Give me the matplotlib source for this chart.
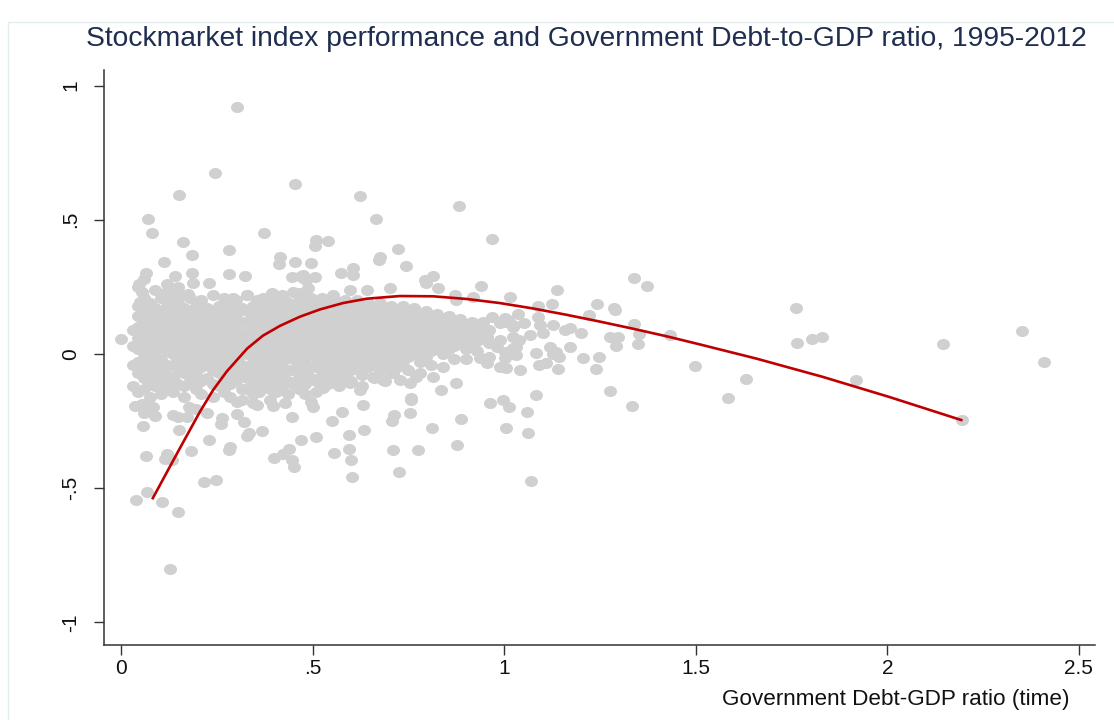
import matplotlib
matplotlib.use('Agg')
import matplotlib.pyplot as plt
from matplotlib.path import Path
from matplotlib.patches import Rectangle

plt.rcParams['font.family'] = ['Liberation Sans', 'DejaVu Sans']

# (debt ratio, index performance) for observations away from the main cloud
outer_points = [
    # upper tail
    (0.302, 0.919), (0.245, 0.674), (0.151, 0.593), (0.454, 0.635), (0.071, 0.504),
    (0.080, 0.450), (0.162, 0.419), (0.373, 0.450), (0.184, 0.369), (0.282, 0.388),
    (0.113, 0.343), (0.415, 0.361), (0.413, 0.336), (0.454, 0.343), (0.495, 0.338),
    (0.508, 0.425), (0.506, 0.403), (0.065, 0.301), (0.141, 0.289), (0.184, 0.303),
    (0.282, 0.297), (0.323, 0.289), (0.446, 0.288), (0.470, 0.290), (0.623, 0.590),
    (0.881, 0.553), (0.665, 0.503), (0.968, 0.429), (0.541, 0.420), (0.724, 0.392),
    (0.675, 0.362), (0.673, 0.351), (0.606, 0.322), (0.743, 0.328), (0.575, 0.301),
    (0.606, 0.295), (0.475, 0.295), (0.506, 0.288), (0.815, 0.291), (0.793, 0.276),
    (0.000, 0.056), (0.048, 0.261), (0.054, 0.232), (0.050, 0.195), (0.188, 0.266),
    (0.230, 0.266), (0.115, 0.226), (0.132, 0.236), (0.154, 0.216), (0.175, 0.224),
    (0.293, 0.208), (0.328, 0.220), (0.354, 0.201), (0.371, 0.208), (0.393, 0.229),
    (0.415, 0.201), (0.432, 0.195), (0.475, 0.282), (0.467, 0.226), (0.488, 0.245),
    (0.501, 0.195), (0.484, 0.276), (0.701, 0.245), (0.641, 0.239), (0.597, 0.239),
    (0.554, 0.220), (0.519, 0.201),
    # right of the cloud
    (0.797, 0.266), (0.827, 0.245), (0.940, 0.254), (0.871, 0.220), (0.875, 0.201),
    (0.919, 0.214), (1.014, 0.212), (0.967, 0.139), (0.988, 0.115), (1.010, 0.127),
    (1.023, 0.102), (0.954, 0.065), (0.980, 0.027), (0.988, 0.052), (1.023, 0.065),
    (1.032, 0.027), (0.936, -0.016), (0.954, -0.035), (0.988, -0.047), (1.001, -0.016),
    (1.032, -0.004), (0.875, -0.109), (0.836, -0.134), (0.815, -0.085), (0.758, -0.165),
    (0.771, -0.085), (0.754, -0.109), (0.728, -0.097), (0.710, -0.072), (0.684, -0.097),
    (0.658, -0.085), (0.597, -0.109), (0.623, -0.134), (0.562, -0.109), (0.528, -0.128),
    (1.340, 0.282), (1.373, 0.255), (1.139, 0.239), (1.087, 0.179), (1.125, 0.187),
    (1.242, 0.185), (1.286, 0.171), (1.036, 0.148), (1.001, 0.133), (1.221, 0.146),
    (1.288, 0.164), (1.275, -0.137), (1.333, -0.195), (1.499, -0.044), (1.205, -0.016),
    (1.247, -0.010), (1.240, -0.055), (1.140, -0.056), (1.091, -0.041), (1.042, -0.060),
    (1.004, -0.053), (1.082, 0.005), (1.127, 0.000), (1.143, -0.010), (1.171, 0.027),
    (1.201, 0.077), (1.275, 0.065), (1.297, 0.065), (1.291, 0.030), (1.349, 0.037),
    (1.353, 0.075), (1.340, 0.112), (1.432, 0.071), (1.001, 0.121), (1.023, 0.108),
    (1.053, 0.115), (1.093, 0.108), (1.127, 0.108), (1.158, 0.090), (1.171, 0.096),
    (1.067, 0.071), (1.101, 0.077), (1.040, 0.052), (1.023, 0.021), (1.001, 0.008),
    (1.119, 0.027), (1.136, 0.008), (1.110, -0.035), (1.087, 0.139),
    # lower tail
    (0.501, -0.197), (0.497, -0.178), (0.578, -0.215), (0.632, -0.190), (0.551, -0.250),
    (0.471, -0.321), (0.510, -0.309), (0.595, -0.302), (0.634, -0.284), (0.556, -0.368),
    (0.595, -0.354), (0.599, -0.396), (0.602, -0.460), (0.712, -0.228), (0.708, -0.249),
    (0.754, -0.218), (0.758, -0.172), (0.710, -0.358), (0.774, -0.358), (0.725, -0.439),
    (0.811, -0.275), (0.887, -0.241), (0.877, -0.340), (0.962, -0.184), (0.997, -0.172),
    (1.013, -0.199), (1.004, -0.277), (0.037, -0.194), (0.054, -0.187), (0.084, -0.197),
    (0.089, -0.231), (0.058, -0.267), (0.136, -0.228), (0.149, -0.234), (0.173, -0.236),
    (0.178, -0.197), (0.197, -0.203), (0.151, -0.284), (0.225, -0.218), (0.263, -0.240),
    (0.260, -0.259), (0.302, -0.224), (0.321, -0.255), (0.334, -0.296), (0.329, -0.306),
    (0.369, -0.287), (0.303, -0.178), (0.345, -0.184), (0.354, -0.190), (0.397, -0.194),
    (0.428, -0.182), (0.445, -0.236), (0.064, -0.379), (0.119, -0.371), (0.115, -0.392),
    (0.132, -0.393), (0.183, -0.361), (0.229, -0.321), (0.284, -0.346), (0.283, -0.358),
    (0.399, -0.386), (0.422, -0.371), (0.438, -0.352), (0.445, -0.396), (0.451, -0.420),
    (0.217, -0.478), (0.248, -0.471), (0.039, -0.545), (0.067, -0.515), (0.106, -0.551),
    (0.148, -0.588), (0.128, -0.800), (1.084, -0.153), (1.059, -0.215), (1.062, -0.296),
    (1.071, -0.474),
    # high-debt observations
    (1.762, 0.170), (1.764, 0.041), (1.803, 0.055), (1.829, 0.062), (1.630, -0.094),
    (1.585, -0.164), (1.917, -0.097), (2.144, 0.038), (2.351, 0.085), (2.409, -0.030),
    (2.196, -0.246),
]

# the dense cloud, grouped by debt ratio: (debt ratio, [index performance, ...])
cloud_columns = [
    (0.030, [0.09, 0.03, -0.04, -0.12]),
    (0.045, [0.25, 0.18, 0.14, 0.10, 0.06, 0.02, -0.03, -0.07, -0.14]),
    (0.060, [0.28, 0.21, 0.16, 0.12, 0.08, 0.04, 0.00, -0.04, -0.09, -0.13, -0.22]),
    (0.075, [0.19, 0.15, 0.11, 0.07, 0.02, -0.02, -0.06, -0.11, -0.16]),
    (0.090, [0.24, 0.17, 0.13, 0.09, 0.05, 0.01, -0.03, -0.08, -0.12]),
    (0.105, [0.21, 0.15, 0.11, 0.07, 0.03, -0.02, -0.06, -0.10, -0.15]),
    (0.120, [0.26, 0.18, 0.14, 0.09, 0.05, 0.01, -0.04, -0.08, -0.12]),
    (0.135, [0.21, 0.16, 0.12, 0.08, 0.04, 0.00, -0.04, -0.09, -0.14]),
    (0.150, [0.25, 0.19, 0.14, 0.10, 0.06, 0.02, -0.02, -0.06, -0.11]),
    (0.165, [0.17, 0.13, 0.09, 0.05, 0.01, -0.03, -0.07, -0.12, -0.16]),
    (0.180, [0.21, 0.16, 0.11, 0.07, 0.03, -0.02, -0.06, -0.10]),
    (0.195, [0.18, 0.13, 0.09, 0.05, 0.01, -0.03, -0.08, -0.13]),
    (0.210, [0.20, 0.15, 0.11, 0.07, 0.03, -0.01, -0.05, -0.10, -0.15]),
    (0.225, [0.17, 0.12, 0.08, 0.04, 0.00, -0.04, -0.09]),
    (0.240, [0.22, 0.15, 0.11, 0.07, 0.03, -0.01, -0.06, -0.11, -0.16]),
    (0.255, [0.18, 0.13, 0.09, 0.05, 0.01, -0.03, -0.07, -0.12]),
    (0.270, [0.21, 0.16, 0.12, 0.08, 0.04, 0.00, -0.05, -0.09, -0.14]),
    (0.285, [0.18, 0.13, 0.09, 0.05, 0.01, -0.03, -0.07, -0.11, -0.16]),
    (0.300, [0.20, 0.15, 0.11, 0.07, 0.03, -0.02, -0.06, -0.10]),
    (0.315, [0.17, 0.12, 0.08, 0.04, 0.00, -0.04, -0.08, -0.13, -0.17]),
    (0.330, [0.22, 0.16, 0.12, 0.08, 0.04, 0.00, -0.05, -0.09, -0.13]),
    (0.345, [0.18, 0.13, 0.09, 0.05, 0.01, -0.03, -0.07, -0.11, -0.15]),
    (0.360, [0.20, 0.16, 0.12, 0.07, 0.03, -0.01, -0.05, -0.10, -0.14]),
    (0.375, [0.18, 0.14, 0.10, 0.06, 0.02, -0.02, -0.07, -0.11]),
    (0.390, [0.21, 0.16, 0.12, 0.08, 0.04, 0.00, -0.04, -0.08, -0.13, -0.17]),
    (0.405, [0.19, 0.15, 0.11, 0.07, 0.03, -0.01, -0.05, -0.10, -0.14]),
    (0.420, [0.22, 0.17, 0.13, 0.09, 0.05, 0.01, -0.03, -0.07, -0.12]),
    (0.435, [0.19, 0.15, 0.11, 0.07, 0.03, -0.01, -0.06, -0.10, -0.15]),
    (0.450, [0.23, 0.18, 0.14, 0.10, 0.06, 0.02, -0.02, -0.06, -0.11]),
    (0.465, [0.20, 0.16, 0.12, 0.08, 0.04, 0.00, -0.04, -0.09, -0.13]),
    (0.480, [0.18, 0.14, 0.10, 0.06, 0.02, -0.02, -0.06, -0.11, -0.15]),
    (0.495, [0.21, 0.17, 0.12, 0.08, 0.04, 0.00, -0.05, -0.09]),
    (0.510, [0.19, 0.15, 0.11, 0.07, 0.03, -0.01, -0.05, -0.10, -0.14]),
    (0.525, [0.21, 0.16, 0.12, 0.08, 0.04, 0.00, -0.04, -0.08]),
    (0.540, [0.18, 0.14, 0.10, 0.06, 0.02, -0.02, -0.07, -0.11]),
    (0.555, [0.20, 0.16, 0.12, 0.08, 0.04, 0.00, -0.04, -0.08]),
    (0.570, [0.18, 0.14, 0.10, 0.06, 0.02, -0.02, -0.06, -0.12]),
    (0.585, [0.20, 0.16, 0.12, 0.08, 0.04, 0.00, -0.05, -0.09]),
    (0.600, [0.18, 0.14, 0.10, 0.06, 0.02, -0.02, -0.06, -0.10]),
    (0.615, [0.20, 0.15, 0.11, 0.07, 0.03, -0.01, -0.05]),
    (0.630, [0.17, 0.13, 0.09, 0.05, 0.01, -0.03, -0.08, -0.12]),
    (0.645, [0.19, 0.15, 0.11, 0.07, 0.03, -0.01, -0.05]),
    (0.660, [0.17, 0.13, 0.08, 0.04, 0.00, -0.04, -0.09]),
    (0.675, [0.19, 0.14, 0.10, 0.06, 0.02, -0.02, -0.06]),
    (0.690, [0.16, 0.12, 0.08, 0.04, 0.00, -0.05, -0.10]),
    (0.705, [0.18, 0.14, 0.10, 0.06, 0.02, -0.02, -0.07]),
    (0.720, [0.16, 0.11, 0.07, 0.03, -0.01, -0.05]),
    (0.735, [0.18, 0.13, 0.09, 0.05, 0.01, -0.04]),
    (0.750, [0.15, 0.11, 0.07, 0.03, -0.01, -0.06]),
    (0.765, [0.17, 0.12, 0.08, 0.04, 0.00]),
    (0.780, [0.14, 0.10, 0.06, 0.02, -0.03, -0.07]),
    (0.795, [0.16, 0.11, 0.07, 0.03, -0.01]),
    (0.810, [0.13, 0.09, 0.05, 0.01, -0.04]),
    (0.825, [0.15, 0.10, 0.06, 0.02]),
    (0.840, [0.12, 0.08, 0.04, 0.00, -0.05]),
    (0.855, [0.14, 0.10, 0.06, 0.02]),
    (0.870, [0.11, 0.07, 0.03, -0.02]),
    (0.885, [0.13, 0.09, 0.05]),
    (0.900, [0.11, 0.07, 0.02, -0.02]),
    (0.915, [0.12, 0.08, 0.04]),
    (0.930, [0.10, 0.05, 0.01]),
    (0.945, [0.12, 0.08]),
    (0.960, [0.09, 0.04, -0.01]),
]

# fitted relationship, read at a set of debt ratios
fit_debt = [0.083, 0.154, 0.206, 0.240, 0.276, 0.329, 0.370, 0.415, 0.467, 0.519,
            0.580, 0.641, 0.728, 0.814, 0.902, 0.988, 1.074, 1.163, 1.249, 1.337,
            1.424, 1.510, 1.658, 1.831, 2.005, 2.193]
fit_perf = [-0.537, -0.350, -0.215, -0.135, -0.065, 0.020, 0.068, 0.105, 0.139, 0.166,
            0.190, 0.206, 0.216, 0.215, 0.205, 0.190, 0.170, 0.146, 0.121, 0.094,
            0.066, 0.036, -0.017, -0.085, -0.160, -0.246]

x_ticks = [0, 0.5, 1, 1.5, 2, 2.5]
x_labels = ['0', '.5', '1', '1.5', '2', '2.5']
y_ticks = [-1, -0.5, 0, 0.5, 1]
y_labels = ['-1', '-.5', '0', '.5', '1']

debt = [p[0] for p in outer_points] + [x for x, ys in cloud_columns for _ in ys]
perf = [p[1] for p in outer_points] + [y for x, ys in cloud_columns for y in ys]

# slightly flattened dot, like the original markers
circ = Path.unit_circle()
dot = Path(circ.vertices * [1.0, 0.85], circ.codes)

fig = plt.figure(figsize=(11.14, 7.2), dpi=100)
fig.patches.append(Rectangle((8 / 1114, -0.1), 1.2, (720 - 22) / 720 + 0.1,
                             transform=fig.transFigure, fill=False,
                             edgecolor='#e4eded', lw=1))

ax = fig.add_axes([104 / 1114, 75 / 720, 991 / 1114, 575 / 720])
ax.scatter(debt, perf, s=88, marker=dot, color='#d0d0d0', linewidths=0, zorder=2)
ax.plot(fit_debt, fit_perf, color='#c00000', lw=1.9, zorder=3)

ax.set_xlim(-0.0444, 2.542)
ax.set_ylim(-1.084, 1.058)
for side in ['top', 'right']:
    ax.spines[side].set_visible(False)
for side in ['left', 'bottom']:
    ax.spines[side].set_color('#333333')
    ax.spines[side].set_linewidth(1.1)

ax.set_xticks(x_ticks)
ax.set_xticklabels(x_labels)
ax.set_yticks(y_ticks)
ax.set_yticklabels(y_labels, rotation=90, va='center')
ax.tick_params(axis='both', direction='out', length=7, width=1.0, color='#333333',
               labelsize=15, labelcolor='#111111')
ax.tick_params(axis='x', pad=3)
ax.tick_params(axis='y', pad=10)

fig.text(586 / 1114, 1 - 39 / 720,
         'Stockmarket index performance and Government Debt-to-GDP ratio, 1995-2012',
         ha='center', va='center', fontsize=20.3, color='#1f2d4f')
fig.text(1070 / 1114, 1 - 700 / 720, 'Government Debt-GDP ratio (time)',
         ha='right', va='center', fontsize=16.2, color='#111111')

fig.savefig('out.png', dpi=100)
